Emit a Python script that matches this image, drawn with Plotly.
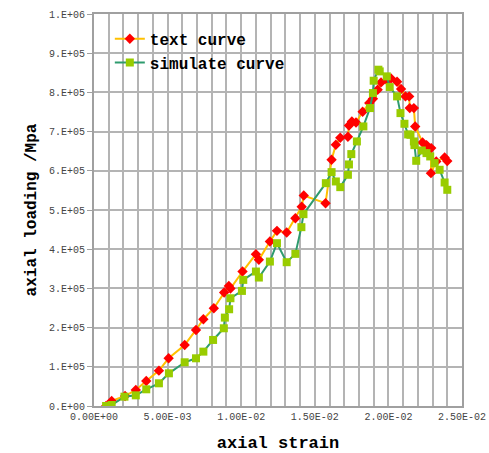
import plotly.graph_objects as go

# text curve (experimental)
text_strain = [0.00082, 0.0012, 0.00211, 0.00284, 0.00355, 0.00441, 0.00507, 0.00616, 0.00693, 0.00743,
               0.00814, 0.00884, 0.00916, 0.00927, 0.01009, 0.0110, 0.0112, 0.01195, 0.01243, 0.01309,
               0.01368, 0.01411, 0.01425, 0.01573, 0.01614, 0.01643, 0.01673, 0.01725, 0.01732, 0.01752,
               0.0178, 0.01825, 0.0187, 0.01895, 0.01927, 0.0195, 0.01991, 0.02018, 0.02059, 0.02086,
               0.02116, 0.02141, 0.02145, 0.02173, 0.02182, 0.02232, 0.02259, 0.02291, 0.02289, 0.02325,
               0.02382, 0.0240]
text_load = [0, 12800, 25500, 40900, 63800, 90200, 121700, 155700, 194000, 221300,
             249400, 289400, 306400, 299600, 343000, 387200, 372800, 419600, 446800, 442600,
             479100, 508100, 537000, 517400, 628100, 666400, 684300, 686800, 715700, 726000,
             723400, 750600, 772800, 783800, 806800, 825500, 830600, 835700, 827200, 808500,
             789800, 789800, 760000, 760000, 713200, 672300, 665500, 657900, 594000, 623800,
             634000, 624700]

# simulate curve
sim_strain = [0.00082, 0.0012, 0.00207, 0.00284, 0.00355, 0.00441, 0.00509, 0.00616, 0.00693, 0.00743,
              0.00809, 0.00882, 0.00889, 0.00918, 0.00927, 0.01005, 0.01014, 0.0110, 0.0112, 0.01195,
              0.01243, 0.01309, 0.01368, 0.01409, 0.01423, 0.01575, 0.01614, 0.01643, 0.01673, 0.01725,
              0.01732, 0.01748, 0.01786, 0.0183, 0.01875, 0.01895, 0.0190, 0.01932, 0.01941, 0.01989,
              0.02009, 0.02059, 0.02082, 0.02109, 0.02134, 0.0215, 0.02173, 0.02177, 0.02189, 0.02227,
              0.02259, 0.02284, 0.02314, 0.02348, 0.02382, 0.0240]
sim_load = [0, 2600, 23800, 27200, 42600, 57900, 83400, 111500, 121700, 138700,
            168500, 198300, 225500, 246800, 274900, 293600, 321700, 343000, 327700, 368500,
            415300, 366800, 388100, 456200, 489400, 568500, 596600, 572800, 558300, 589800,
            616200, 642600, 674900, 713200, 760000, 798300, 829800, 857900, 853600, 840900,
            813600, 789800, 747200, 720000, 692800, 691900, 674900, 665500, 625500, 651900,
            645100, 636600, 619600, 602600, 570200, 551500]

x_tickvals = [0, 0.005, 0.010, 0.015, 0.020, 0.025]
x_ticktext = ["0.00E+00", "5.00E-03", "1.00E-02", "1.50E-02", "2.00E-02", "2.50E-02"]
y_tickvals = [0, 1e5, 2e5, 3e5, 4e5, 5e5, 6e5, 7e5, 8e5, 9e5, 1e6]
y_ticktext = ["0.E+00", "1.E+05", "2.E+05", "3.E+05", "4.E+05", "5.E+05",
              "6.E+05", "7.E+05", "8.E+05", "9.E+05", "1.E+06"]

fig = go.Figure()
fig.add_trace(go.Scatter(
    x=text_strain, y=text_load, mode="lines+markers", name="text curve",
    line=dict(color="#FFC000", width=2),
    marker=dict(symbol="diamond", color="#FF0000", size=8, line=dict(width=0)),
))
fig.add_trace(go.Scatter(
    x=sim_strain, y=sim_load, mode="lines+markers", name="simulate curve",
    line=dict(color="#2E9B6E", width=2),
    marker=dict(symbol="square", color="#99CC00", size=8, line=dict(width=0)),
))

gridc = "#B4B4B4"
tickfont = dict(family="Liberation Mono", size=10, color="#444444")
fig.update_layout(
    width=489, height=453,
    margin=dict(l=94, r=27, t=14, b=47),
    paper_bgcolor="white", plot_bgcolor="white",
    showlegend=True,
    legend=dict(x=0.043, y=0.98, xanchor="left", yanchor="top",
                bgcolor="rgba(0,0,0,0)", borderwidth=0,
                font=dict(family="Liberation Mono", size=16, color="black", weight="bold"),
                tracegroupgap=0, itemwidth=30),
    xaxis=dict(range=[0, 0.025], tickvals=x_tickvals, ticktext=x_ticktext,
               tickfont=tickfont, showgrid=True, gridcolor=gridc, gridwidth=1.5,
               minor=dict(dtick=0.001, showgrid=True, gridcolor=gridc, gridwidth=1.5),
               showline=True, linecolor="#A0A0A0", linewidth=2, mirror=True,
               ticks="", zeroline=False, automargin=False,
               title=dict(text="axial strain", standoff=19,
                          font=dict(family="Liberation Mono", size=17, color="black", weight="bold"))),
    yaxis=dict(range=[0, 1e6], tickvals=y_tickvals, ticktext=y_ticktext,
               tickfont=tickfont, showgrid=True, gridcolor=gridc, gridwidth=1.5,
               showline=True, linecolor="#A0A0A0", linewidth=2, mirror=True,
               ticks="outside", ticklen=5, tickcolor="#A0A0A0", zeroline=False, automargin=False,
               title=dict(text="axial loading /Mpa", standoff=8,
                          font=dict(family="Liberation Mono", size=16, color="black", weight="bold"))),
)

fig.write_html("out.html", config={"displayModeBar": False},
               post_script="document.body.style.margin='0';document.body.style.overflow='hidden';")
